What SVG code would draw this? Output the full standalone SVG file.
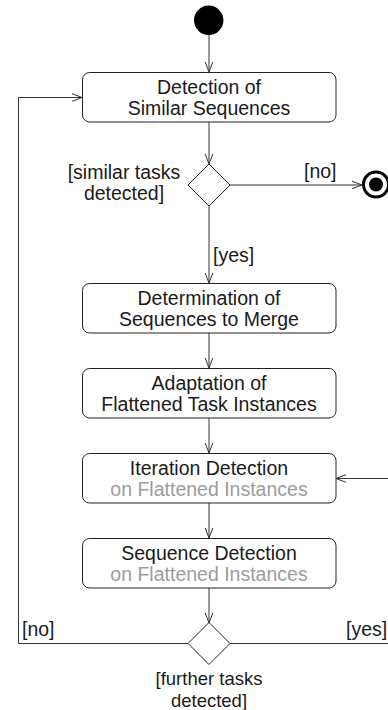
<svg xmlns="http://www.w3.org/2000/svg" width="388" height="710" viewBox="0 0 388 710">
  <style>
    .act { fill: #ffffff; stroke: #222222; stroke-width: 1; }
    .dec { fill: #ffffff; stroke: #222222; stroke-width: 1; }
    .flow { fill: none; stroke: #333333; stroke-width: 1; }
    .t { font-family: "Liberation Sans", Arial, sans-serif; font-size: 19.5px; fill: #1a1a1a; }
    .mid { text-anchor: middle; }
    .sub { fill: #9c9c9c; }
    .guard { font-size: 18.5px; }
  </style>
  <defs>
    <marker id="open" markerUnits="userSpaceOnUse" markerWidth="14" markerHeight="14" viewBox="-12 -6 14 12" refX="0" refY="0" orient="auto">
      <path d="M -10 -3.8 L 0 0 L -10 3.8" fill="none" stroke="#333333" stroke-width="1"/>
    </marker>
  </defs>

  <!-- control flow -->
  <g id="connectors">
    <path class="flow" d="M 209 35 L 209 72" marker-end="url(#open)"/>
    <path class="flow" d="M 209 122 L 209 164" marker-end="url(#open)"/>
    <path class="flow" d="M 230 185 L 362 185" marker-end="url(#open)"/>
    <path class="flow" d="M 209 206 L 209 283" marker-end="url(#open)"/>
    <path class="flow" d="M 209 333 L 209 368" marker-end="url(#open)"/>
    <path class="flow" d="M 209 418 L 209 453" marker-end="url(#open)"/>
    <path class="flow" d="M 209 503 L 209 538" marker-end="url(#open)"/>
    <path class="flow" d="M 209 588 L 209 623" marker-end="url(#open)"/>
    <path class="flow" d="M 188 643.5 L 18.5 643.5 L 18.5 97.5 L 82 97.5" marker-end="url(#open)"/>
    <path class="flow" d="M 230 643.5 L 392 643.5 L 392 478.5 L 336 478.5" marker-end="url(#open)"/>
    <text class="t" x="304" y="178">[no]</text>
    <text class="t" x="213" y="262">[yes]</text>
    <text class="t" x="22" y="636">[no]</text>
    <text class="t" x="346" y="636">[yes]</text>
  </g>

  <g id="start">
    <circle cx="208.7" cy="20.3" r="14.7" fill="#000000"/>
  </g>

  <g id="detect-similar">
    <rect class="act" x="82.5" y="72.5" width="253.5" height="49.5" rx="7"/>
    <text class="t mid" x="209" y="94">Detection of</text>
    <text class="t mid" x="209" y="115.3">Similar Sequences</text>
  </g>

  <g id="decision-similar">
    <polygon class="dec" points="209,164 230,185 209,206 188,185"/>
    <text class="t mid" x="124" y="179">[similar tasks</text>
    <text class="t mid" x="124" y="200">detected]</text>
  </g>

  <g id="end">
    <circle cx="376" cy="184.5" r="12.5" fill="#ffffff" stroke="#000000" stroke-width="3"/>
    <circle cx="376" cy="184.5" r="7" fill="#000000"/>
  </g>

  <g id="determine-merge">
    <rect class="act" x="82.5" y="283.5" width="253.5" height="49.5" rx="7"/>
    <text class="t mid" x="209" y="305">Determination of</text>
    <text class="t mid" x="209" y="326.3">Sequences to Merge</text>
  </g>

  <g id="adapt-instances">
    <rect class="act" x="82.5" y="368.5" width="253.5" height="49.5" rx="7"/>
    <text class="t mid" x="209" y="390">Adaptation of</text>
    <text class="t mid" x="209" y="411.3">Flattened Task Instances</text>
  </g>

  <g id="iteration-detection">
    <rect class="act" x="82.5" y="453.5" width="253.5" height="49.5" rx="7"/>
    <text class="t mid" x="209" y="475">Iteration Detection</text>
    <text class="t mid sub" x="209" y="496.3">on Flattened Instances</text>
  </g>

  <g id="sequence-detection">
    <rect class="act" x="82.5" y="538.5" width="253.5" height="49.5" rx="7"/>
    <text class="t mid" x="209" y="560">Sequence Detection</text>
    <text class="t mid sub" x="209" y="581.3">on Flattened Instances</text>
  </g>

  <g id="decision-further">
    <polygon class="dec" points="209,622.5 230,643.5 209,664.5 188,643.5"/>
    <text class="t mid guard" x="209" y="685">[further tasks</text>
    <text class="t mid guard" x="209" y="706.5">detected]</text>
  </g>
</svg>
